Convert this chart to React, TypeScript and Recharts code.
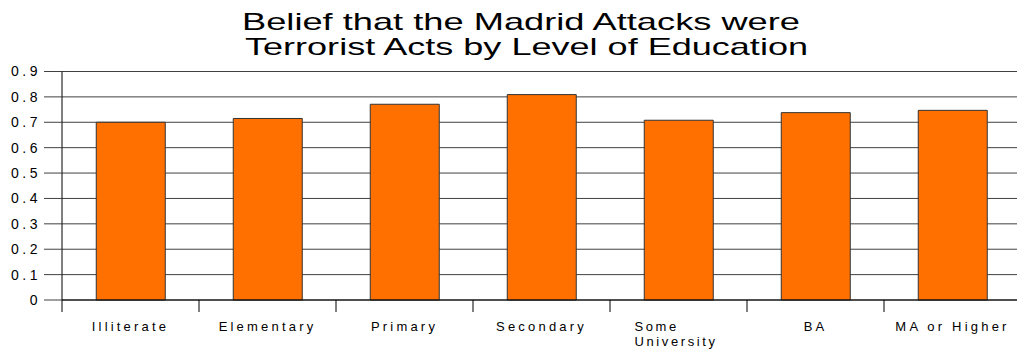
import React from "react";
import { BarChart, Bar, XAxis, YAxis, CartesianGrid } from "recharts";

const categories = ["Illiterate", "Elementary", "Primary", "Secondary", "Some University", "BA", "MA or Higher"];
const values = [0.7, 0.715, 0.771, 0.809, 0.708, 0.738, 0.747];
const yTicks = [0, 0.1, 0.2, 0.3, 0.4, 0.5, 0.6, 0.7, 0.8, 0.9];
const titleLines = ["Belief that the Madrid Attacks were", "Terrorist Acts by Level of Education"];

const data = categories.map((c, i) => ({ name: c, value: values[i] }));

const FONT = "'Liberation Sans', Arial, sans-serif";

const XTick = (props: any) => {
  const { x, y, payload } = props;
  const half = payload && typeof payload.offset === "number" && payload.offset > 0 ? payload.offset : 68.5;
  const label: string = payload.value;
  const multi = label === "Some University";
  return (
    <g>
      <line x1={x - half} y1={y} x2={x - half} y2={y + 12} stroke="#000" strokeWidth={1} />
      {multi ? (
        <text x={x - 44} y={y + 31} textAnchor="start" fontSize={13} fontFamily={FONT} fill="#000" style={{ letterSpacing: 2.6 }}>
          <tspan x={x - 44} dy={0}>Some</tspan>
          <tspan x={x - 44} dy={15}>University</tspan>
        </text>
      ) : (
        <text x={x} y={y + 31} textAnchor="middle" fontSize={13} fontFamily={FONT} fill="#000" style={{ letterSpacing: 3.2 }}>
          {label}
        </text>
      )}
    </g>
  );
};

export default function App() {
  return (
    <div style={{ position: "absolute", left: 0, top: 0, width: 1017, height: 349, overflow: "hidden", background: "#fff" }}>
      <div style={{ position: "absolute", left: 0, top: 0 }}>
        <BarChart width={1030} height={349} data={data} margin={{ top: 71.5, right: 9, bottom: 0, left: 0 }} barCategoryGap="25%">
          <CartesianGrid horizontal={true} vertical={false} stroke="#404040" strokeWidth={1} />
          <XAxis
            dataKey="name"
            height={49}
            tickSize={0}
            tickMargin={0}
            tickLine={false}
            axisLine={{ stroke: "#000", strokeWidth: 1 }}
            tick={<XTick />}
            interval={0}
          />
          <YAxis
            width={62}
            domain={[0, 0.9]}
            ticks={yTicks}
            tickSize={18}
            tickMargin={3}
            interval={0}
            axisLine={{ stroke: "#000", strokeWidth: 1 }}
            tickLine={{ stroke: "#404040", strokeWidth: 1 }}
            tick={{ fill: "#000", fontSize: 14, fontFamily: FONT, style: { letterSpacing: 3.5 } }}
            tickFormatter={(v: number) => (v === 0 ? "0" : v.toFixed(1))}
          />
          <Bar dataKey="value" fill="#FF7000" stroke="#333" strokeWidth={1} isAnimationActive={false} />
        </BarChart>
      </div>
      <svg width={1017} height={62} style={{ position: "absolute", left: 0, top: 0 }}>
        <text x={242} y={30} textAnchor="start" fontSize={24} fontFamily={FONT} fill="#000" textLength={558} lengthAdjust="spacingAndGlyphs">
          {titleLines[0]}
        </text>
        <text x={245} y={55} textAnchor="start" fontSize={24} fontFamily={FONT} fill="#000" textLength={563} lengthAdjust="spacingAndGlyphs">
          {titleLines[1]}
        </text>
      </svg>
    </div>
  );
}
